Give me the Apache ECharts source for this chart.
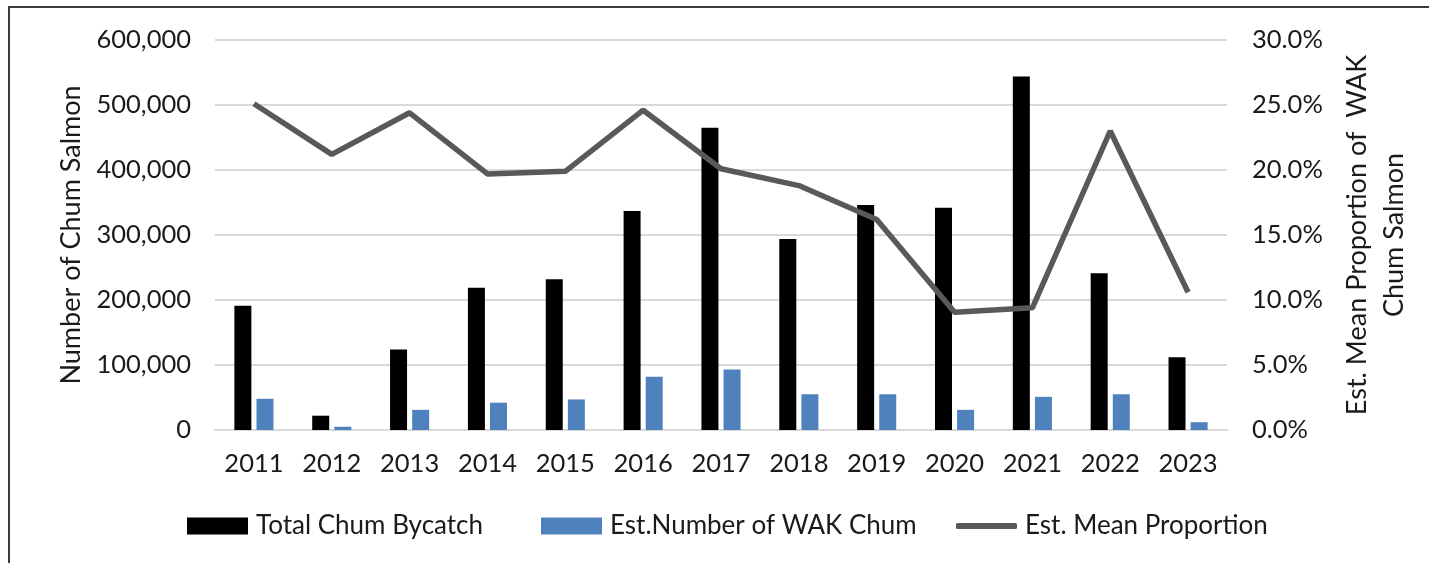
<!DOCTYPE html>
<html>
<head>
<meta charset="utf-8">
<script src="https://cdn.jsdelivr.net/npm/echarts@6/dist/echarts.min.js"></script>
<style>
 html, body { margin: 0; padding: 0; background: #fff; }
 #frame { position: absolute; left: 8px; top: 6px; width: 1500px; height: 700px;
  border-top: 2px solid #3a3a3a; border-left: 2px solid #3a3a3a; }
 #chart { position: absolute; left: 0; top: 0; width: 1429px; height: 563px; }
</style>
</head>
<body>
<div id="frame"></div>
<div id="chart"></div>
<script>
// data
var years = ['2011', '2012', '2013', '2014', '2015', '2016', '2017', '2018', '2019', '2020', '2021', '2022', '2023'];
var totalBycatch = [191000, 22000, 124000, 219000, 232000, 337000, 465000, 294000, 346000, 342000, 544000, 241000, 112000];
var wakChum = [48000, 5000, 31000, 42000, 47000, 82000, 93000, 55000, 55000, 31000, 51000, 55000, 12000];
var meanProp = [0.251, 0.212, 0.244, 0.197, 0.199, 0.246, 0.201, 0.188, 0.162, 0.0905, 0.094, 0.230, 0.106];

var font = 'Lato, "Noto Sans", sans-serif';
var txt = '#1a1a1a';

var chart = echarts.init(document.getElementById('chart'));

var legendBase = function (name, left, icon, h) {
 return {
  data: [name], left: left, top: 513, padding: 0,
  itemWidth: 61, itemHeight: h, icon: icon,
  textStyle: { fontFamily: font, fontSize: 26, color: txt, padding: [0, 0, 0, 3] }
 };
};

var option = {
 animation: false,
 textStyle: { fontFamily: font, color: txt },
 grid: { left: 215, right: 202, top: 40, bottom: 133 },
 legend: [
  legendBase('Total Chum Bycatch', 187, 'rect', 17),
  legendBase('Est.Number of WAK Chum', 541, 'rect', 17),
  legendBase('Est. Mean Proportion', 956, 'roundRect', 6)
 ],
 xAxis: {
  type: 'category',
  data: years,
  axisTick: { show: false },
  axisLine: { lineStyle: { color: '#d9d9d9', width: 2 } },
  axisLabel: { fontFamily: font, fontSize: 25.5, color: txt, margin: 21 }
 },
 yAxis: [
  {
   type: 'value',
   min: 0, max: 600000, interval: 100000,
   name: 'Number of Chum Salmon',
   nameLocation: 'middle',
   nameGap: 130,
   nameTextStyle: { fontFamily: font, fontSize: 27, color: txt },
   axisLabel: {
    fontFamily: font, fontSize: 25.5, color: txt, margin: 24,
    formatter: function (v) { return v.toLocaleString('en-US'); }
   },
   splitLine: { lineStyle: { color: '#d9d9d9', width: 2 } }
  },
  {
   type: 'value',
   min: 0, max: 0.3, interval: 0.05,
   name: 'Est. Mean Proportion of  WAK\nChum Salmon',
   nameLocation: 'middle',
   nameGap: 112,
   nameRotate: 90,
   nameTextStyle: { fontFamily: font, fontSize: 27, color: txt, lineHeight: 37, align: 'center' },
   axisLabel: {
    fontFamily: font, fontSize: 25.5, color: txt, margin: 25,
    formatter: function (v) { return (v * 100).toFixed(1) + '%'; }
   },
   splitLine: { show: false }
  }
 ],
 series: [
  {
   name: 'Total Chum Bycatch',
   type: 'bar',
   data: totalBycatch,
   barWidth: 17,
   barGap: '30%',
   itemStyle: { color: '#000000' }
  },
  {
   name: 'Est.Number of WAK Chum',
   type: 'bar',
   data: wakChum,
   barWidth: 17,
   barGap: '30%',
   itemStyle: { color: '#4f81bd' }
  },
  {
   name: 'Est. Mean Proportion',
   type: 'line',
   yAxisIndex: 1,
   data: meanProp,
   symbol: 'none',
   lineStyle: { color: '#595959', width: 5.5 },
   itemStyle: { color: '#595959' }
  }
 ]
};
chart.setOption(option);
</script>
</body>
</html>
